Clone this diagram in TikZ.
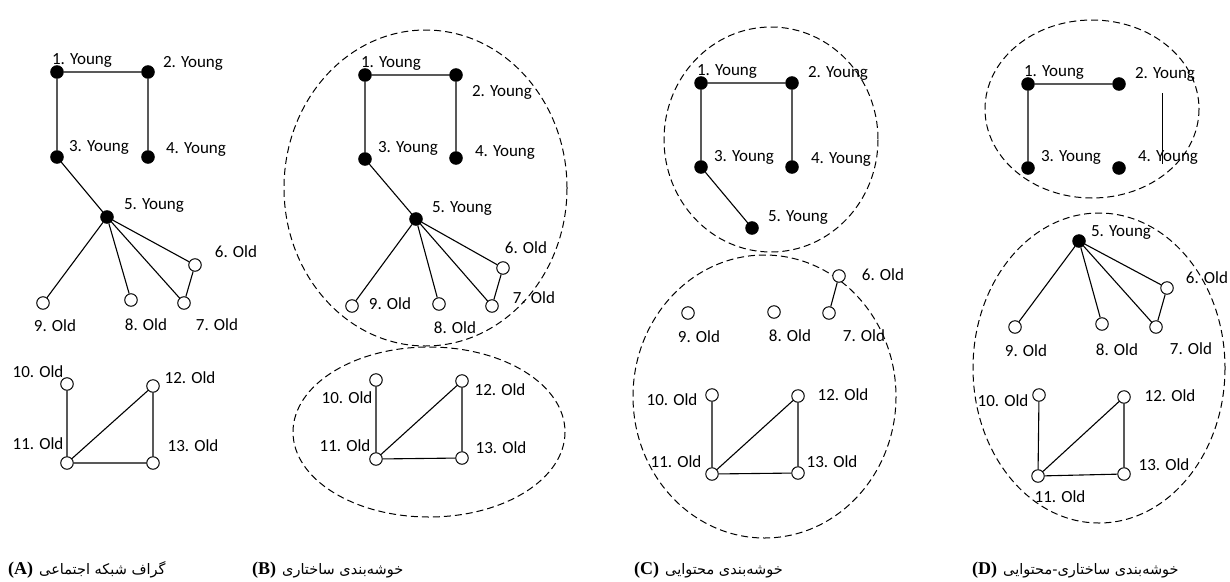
\documentclass[tikz,border=0pt]{standalone}
\usepackage{fontspec}
\setmainfont{Carlito}
\newfontfamily\capfont{Liberation Serif}
\newfontfamily\arabicfont[Script=Arabic]{DejaVu Sans}
\TeXXeTstate=1
\begin{document}
\begin{tikzpicture}[x=1pt,y=-1pt,
  young/.style={circle,fill=black,draw=black,line width=1pt,minimum size=12.5pt,inner sep=0pt},
  old/.style={circle,fill=white,draw=black,line width=1pt,minimum size=12.5pt,inner sep=0pt},
  lab/.style={font=\fontsize{17}{19}\selectfont,inner sep=0pt,text height=11.5pt,text depth=3.5pt},
  link/.style={line width=1.1pt},
  cluster/.style={line width=1pt,dash pattern=on 7pt off 4pt},
  captext/.style={anchor=west,inner sep=0pt},
  capl/.style={},
  ]
\newcommand{\capL}[1]{{\capfont\bfseries\fontsize{18}{20}\selectfont (#1)}}
\newcommand{\capP}[1]{{\arabicfont\fontsize{14.5}{18}\selectfont\beginR #1\endR}}
\useasboundingbox (0,0) rectangle (1230,581);

% ---------------- Panel A ----------------
\node[young] (a1) at (57,72) {};
\node[young] (a2) at (148,72) {};
\node[young] (a3) at (57,157) {};
\node[young] (a4) at (148,157) {};
\node[young] (a5) at (107,217) {};
\node[old] (a6) at (195,265) {};
\node[old] (a7) at (184,303) {};
\node[old] (a8) at (131,300) {};
\node[old] (a9) at (43,303) {};
\node[old] (a10) at (67,384) {};
\node[old] (a11) at (67,463) {};
\node[old] (a12) at (153,386) {};
\node[old] (a13) at (153,463) {};
\draw[link] (a1)--(a2) (a1)--(a3) (a2)--(a4) (a3)--(a5) (a5)--(a6) (a5)--(a7) (a5)--(a8) (a5)--(a9) (a6)--(a7)
  (a10)--(a11) (a11)--(a12) (a12)--(a13) (a11)--(a13);
\node[lab] (la1) at (82,60) {1. Young};
\node[lab] (la2) at (193,63) {2. Young};
\node[lab] (la3) at (99,147) {3. Young};
\node[lab] (la4) at (196,149) {4. Young};
\node[lab] (la5) at (154,205) {5. Young};
\node[lab] (la6) at (236,253) {6. Old};
\node[lab] (la7) at (217,326) {7. Old};
\node[lab] (la8) at (146,326) {8. Old};
\node[lab] (la9) at (55,327) {9. Old};
\node[lab] (la10) at (38,373) {10. Old};
\node[lab] (la11) at (38,445) {11. Old};
\node[lab] (la12) at (190,379) {12. Old};
\node[lab] (la13) at (193,447) {13. Old};

% ---------------- Panel B ----------------
\draw[cluster] (425.5,188) ellipse [x radius=141.5, y radius=158];
\draw[cluster] (429,432) ellipse [x radius=136, y radius=85];
\node[young] (b1) at (365,75) {};
\node[young] (b2) at (456,75) {};
\node[young] (b3) at (365,159) {};
\node[young] (b4) at (456,158) {};
\node[young] (b5) at (416,219) {};
\node[old] (b6) at (503,268) {};
\node[old] (b7) at (492,306) {};
\node[old] (b8) at (439,304) {};
\node[old] (b9) at (352,306) {};
\node[old] (b10) at (376,380) {};
\node[old] (b11) at (376,459) {};
\node[old] (b12) at (462,381) {};
\node[old] (b13) at (462,458) {};
\draw[link] (b1)--(b2) (b1)--(b3) (b2)--(b4) (b3)--(b5) (b5)--(b6) (b5)--(b7) (b5)--(b8) (b5)--(b9) (b6)--(b7)
  (b10)--(b11) (b11)--(b12) (b12)--(b13) (b11)--(b13);
\node[lab] (lb1) at (391,63) {1. Young};
\node[lab] (lb2) at (502,92) {2. Young};
\node[lab] (lb3) at (408,148) {3. Young};
\node[lab] (lb4) at (505,152) {4. Young};
\node[lab] (lb5) at (462,208) {5. Young};
\node[lab] (lb6) at (526,249) {6. Old};
\node[lab] (lb7) at (534,299) {7. Old};
\node[lab] (lb8) at (455,329) {8. Old};
\node[lab] (lb9) at (390,305) {9. Old};
\node[lab] (lb10) at (347,399) {10. Old};
\node[lab] (lb11) at (345,447) {11. Old};
\node[lab] (lb12) at (500,391) {12. Old};
\node[lab] (lb13) at (501,449) {13. Old};

% ---------------- Panel C ----------------
\draw[cluster] (771,139.5) ellipse [x radius=107, y radius=112.5];
\draw[cluster] (764.5,396.5) ellipse [x radius=131.5, y radius=141.5];
\node[young] (c1) at (701,83) {};
\node[young] (c2) at (792,83) {};
\node[young] (c3) at (701,167) {};
\node[young] (c4) at (792,167) {};
\node[young] (c5) at (752,228) {};
\node[old] (c6) at (839,276) {};
\node[old] (c7) at (829,313) {};
\node[old] (c8) at (774,312) {};
\node[old] (c9) at (688,313) {};
\node[old] (c10) at (712,395) {};
\node[old] (c11) at (712,474) {};
\node[old] (c12) at (798,396) {};
\node[old] (c13) at (798,473) {};
\draw[link] (c1)--(c2) (c1)--(c3) (c2)--(c4) (c3)--(c5) (c6)--(c7)
  (c10)--(c11) (c11)--(c12) (c12)--(c13) (c11)--(c13);
\node[lab] (lc1) at (727,71) {1. Young};
\node[lab] (lc2) at (838,73) {2. Young};
\node[lab] (lc3) at (744,157) {3. Young};
\node[lab] (lc4) at (841,159) {4. Young};
\node[lab] (lc5) at (798,217) {5. Young};
\node[lab] (lc6) at (883,276) {6. Old};
\node[lab] (lc7) at (864,337) {7. Old};
\node[lab] (lc8) at (790,337) {8. Old};
\node[lab] (lc9) at (699,338) {9. Old};
\node[lab] (lc10) at (672,401) {10. Old};
\node[lab] (lc11) at (676,463) {11. Old};
\node[lab] (lc12) at (843,396) {12. Old};
\node[lab] (lc13) at (832,463) {13. Old};

% ---------------- Panel D ----------------
\draw[cluster] (1092,109) ellipse [x radius=107, y radius=89];
\draw[cluster] (1099,368) ellipse [x radius=126, y radius=155];
\node[young] (d1) at (1028,84) {};
\node[young] (d2) at (1119,84) {};
\node[young] (d3) at (1028,168) {};
\node[young] (d4) at (1119,168) {};
\node[young] (d5) at (1079,241) {};
\node[old] (d6) at (1167,288) {};
\node[old] (d7) at (1156,327) {};
\node[old] (d8) at (1102,324) {};
\node[old] (d9) at (1015,327) {};
\node[old] (d10) at (1039,395) {};
\node[old] (d11) at (1038,476) {};
\node[old] (d12) at (1124,397) {};
\node[old] (d13) at (1124,474) {};
\coordinate (dsA) at (1162,93);
\coordinate (dsB) at (1162,164);
\draw[link] (d1)--(d2) (d1)--(d3) (d5)--(d6) (d5)--(d7) (d5)--(d8) (d5)--(d9) (d6)--(d7)
  (d10)--(d11) (d11)--(d12) (d12)--(d13) (d11)--(d13);
\draw[line width=0.9pt] (dsA)--(dsB);
\node[lab] (ld1) at (1054,72) {1. Young};
\node[lab] (ld2) at (1165,74) {2. Young};
\node[lab] (ld3) at (1071,157) {3. Young};
\node[lab] (ld4) at (1168,157) {4. Young};
\node[lab] (ld5) at (1121,232) {5. Young};
\node[lab] (ld6) at (1207,279) {6. Old};
\node[lab] (ld7) at (1191,350) {7. Old};
\node[lab] (ld8) at (1117,351) {8. Old};
\node[lab] (ld9) at (1026,352) {9. Old};
\node[lab] (ld10) at (1003,402) {10. Old};
\node[lab] (ld11) at (1060,498) {11. Old};
\node[lab] (ld12) at (1170,397) {12. Old};
\node[lab] (ld13) at (1164,466) {13. Old};

% ---------------- Captions ----------------
\node[captext] (capA) at (8,570) {\capL{A}\hspace{6pt}\capP{گراف شبکه اجتماعی}};
\node[captext] (capB) at (252,570) {\capL{B}\hspace{6pt}\capP{خوشه‌بندی ساختاری}};
\node[captext] (capC) at (634,570) {\capL{C}\hspace{6pt}\capP{خوشه‌بندی محتوایی}};
\node[captext] (capD) at (972,570) {\capL{D}\hspace{6pt}\capP{خوشه‌بندی ساختاری-محتوایی}};
\end{tikzpicture}
\end{document}
